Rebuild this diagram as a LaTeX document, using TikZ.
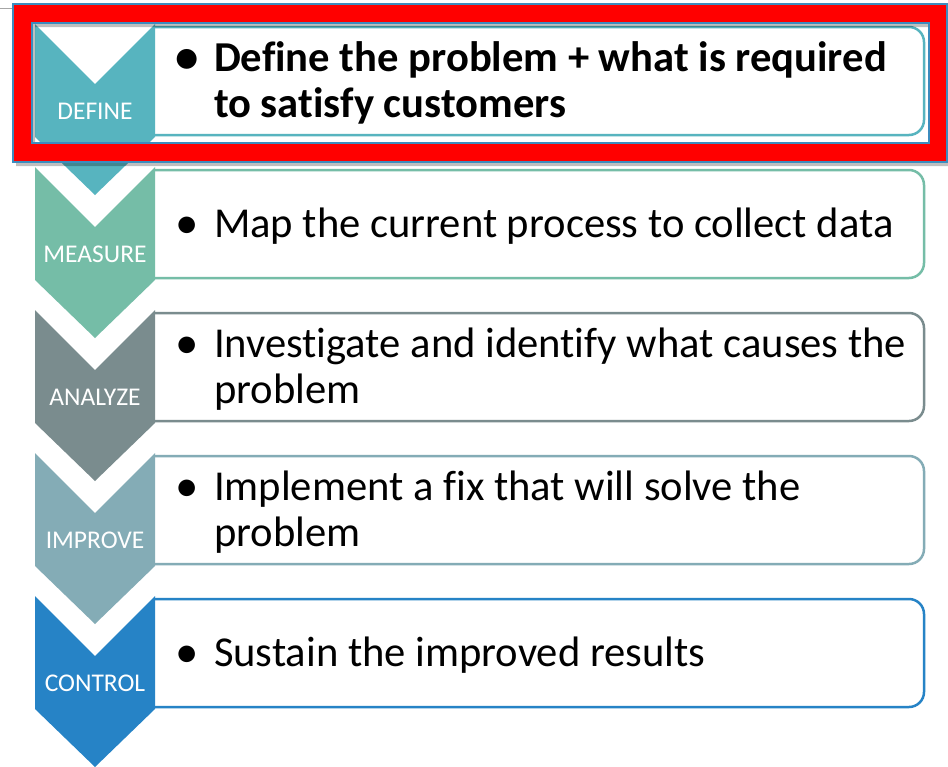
\documentclass[tikz,border=0pt]{standalone}
\usepackage{fontspec}
\setmainfont{Carlito}[Ligatures=CommonOff]
\definecolor{cDefine}{RGB}{87,180,191}
\definecolor{cMeasure}{RGB}{117,189,167}
\definecolor{cAnalyze}{RGB}{122,140,142}
\definecolor{cImprove}{RGB}{132,172,182}
\definecolor{cControl}{RGB}{38,131,198}
\definecolor{frameRed}{RGB}{255,0,0}
\definecolor{frameEdge}{RGB}{60,140,190}

\tikzset{
  stepLabel/.style={text=white, font=\fontsize{25.5}{28}\selectfont, inner sep=0pt},
  stepText/.style={text=black, font=\fontsize{42.6}{46}\selectfont, inner sep=0pt, anchor=west},
  stepBox/.style={line width=2.5pt, rounded corners=15pt},
}

% one DMAIC stage: #1 top edge, #2 colour, #3 label, #4 node name, #5 bullet text
\newcommand\dmaicstage[5]{%
  \fill[#2] (35,#1) -- (95,{#1+60}) -- (155,#1) -- (155,{#1+113})
            -- (95,{#1+171}) -- (35,{#1+113}) -- cycle;
  \draw[stepBox, #2] (155,{#1+3}) -- (924,{#1+3}) -- (924,{#1+111}) -- (155,{#1+111});
  \node[stepLabel] (#4-label) at (95,{#1+87}) {#3};
  \node[stepText] (#4-text) at (175,{#1+61}) {#5};
}

\newcommand\bulletmark{\raisebox{-0.04em}{\scalebox{1.1}{\textbullet}}}
\newcommand\bulletlines[1]{\begin{tabular}{@{}l@{\hspace{15.5pt}}l@{}}#1\end{tabular}}

\begin{document}
\begin{tikzpicture}[x=1pt,y=-1pt]
\useasboundingbox (0,0) rectangle (948,766);
\fill[white] (0,0) rectangle (948,766);

% short rule at the upper left
\draw[gray!70, line width=0.8pt] (0,8) -- (13,8);

\dmaicstage{24}{cDefine}{DEFINE}{define}
  {\bfseries\bulletlines{\bulletmark & Define the problem + what is required\\ & to satisfy customers}}
\dmaicstage{167}{cMeasure}{MEASURE}{measure}
  {\bulletlines{\bulletmark & Map the current process to collect data}}
\dmaicstage{310}{cAnalyze}{ANALYZE}{analyze}
  {\bulletlines{\bulletmark & Investigate and identify what causes the\\ & problem}}
\dmaicstage{453}{cImprove}{IMPROVE}{improve}
  {\bulletlines{\bulletmark & Implement a fix that will solve the\\ & problem}}
\dmaicstage{596}{cControl}{CONTROL}{control}
  {\bulletlines{\bulletmark & Sustain the improved results}}

% highlight frame around the first stage
\fill[black, opacity=0.25, even odd rule] (16,8) rectangle (950,166) (35,27) rectangle (932,147);
\path[fill=frameRed, even odd rule, draw=frameEdge, line width=1.5pt]
  (13,4) rectangle (947,162) (32,23) rectangle (929,143);
\end{tikzpicture}
\end{document}
